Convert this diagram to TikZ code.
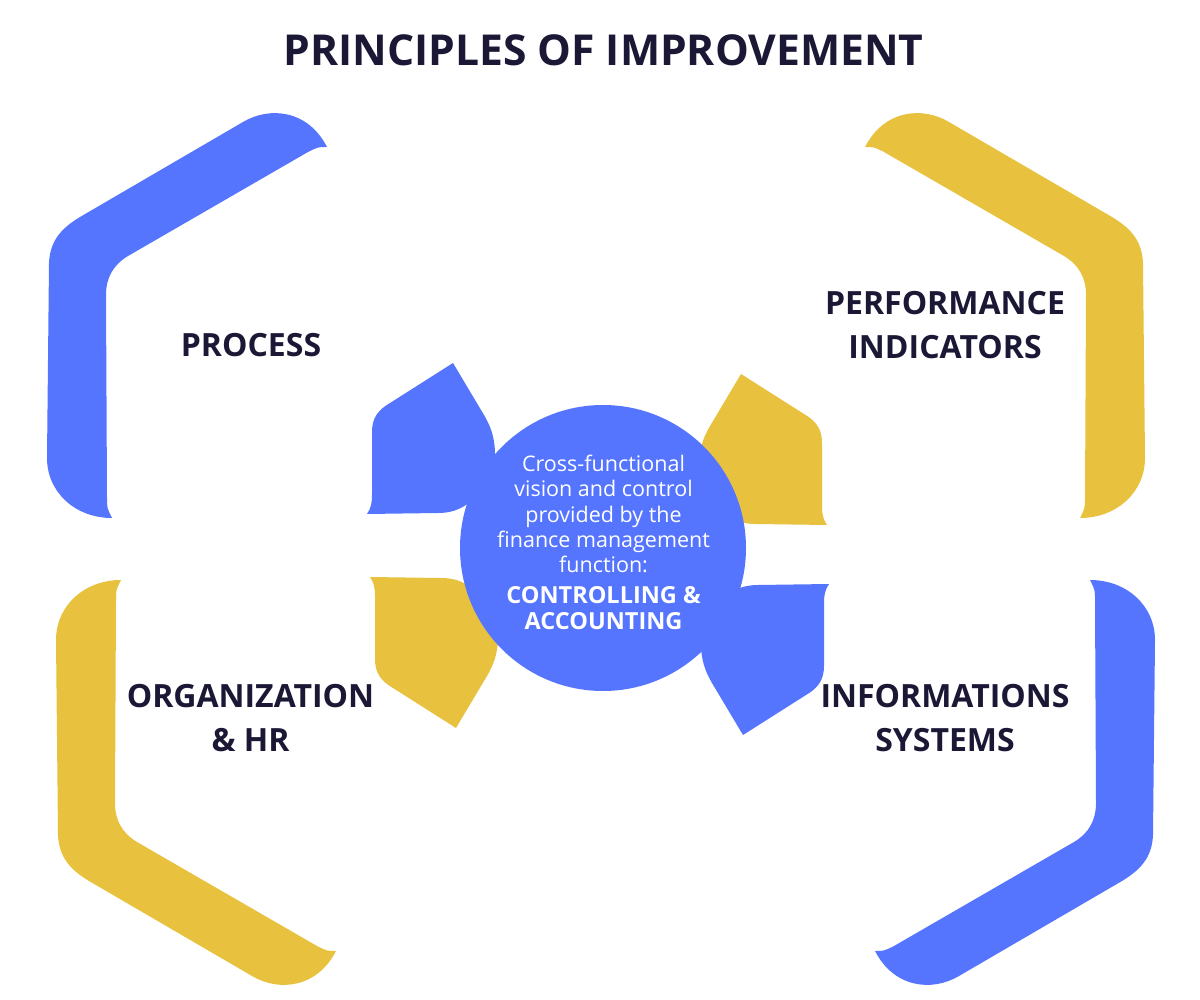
\documentclass[tikz,border=0pt]{standalone}
\usepackage{fontspec}
\setmainfont{Open Sans}
\usepackage{tikz}
\usetikzlibrary{
    positioning
}

\definecolor{pblue}{HTML}{5575FF}
\definecolor{pyellow}{HTML}{E8C23E}
\definecolor{pnavy}{HTML}{1B1836}

\tikzset{
    hub/.style={
        circle,
        fill=pblue,
        minimum size=286pt,
        inner sep=0pt
    },
    heading/.style={
        text=pnavy,
        align=center,
        inner sep=0pt,
        font=\fontsize{32}{44}\selectfont\bfseries
    },
    maintitle/.style={
        text=pnavy,
        inner sep=0pt,
        font=\fontsize{42.6}{50}\selectfont\bfseries
    },
    hubtext/.style={
        text=white,
        align=center,
        inner sep=0pt,
        font=\fontsize{21.5}{25.2}\selectfont
    },
    hubbold/.style={
        text=white,
        align=center,
        inner sep=0pt,
        font=\fontsize{23.5}{26}\selectfont\bfseries
    }
}

% Banda exterior (arriba a la izquierda)
\newcommand{\bandpath}{
    (112,518) .. controls (75,518) and (47,492) .. (47,458)
    -- (49,263) .. controls (50,240) and (62,228) .. (80,217)
    -- (243,122) .. controls (270,106) and (308,110) .. (327,147)
    .. controls (318,147) .. (308,152)
    -- (128,256) .. controls (113,265) and (106,278) .. (106,295)
    -- (107,498) .. controls (107,508) .. (112,518)
    -- cycle
}

% Petalo interior (arriba a la izquierda)
\newcommand{\petalpath}{
    (367,514) .. controls (371,508) and (372,503) .. (372,495)
    -- (372,432) .. controls (372,418) and (378,410) .. (390,403)
    -- (453,363) -- (484,415) .. controls (491,427) and (495,438) .. (495,455)
    -- (560,520) -- (470,502) .. controls (460,510) and (450,513) .. (438,513)
    -- cycle
}

\begin{document}
\begin{tikzpicture}[
    x=1pt,
    y=-1pt
]

    % Fondo
    \path[use as bounding box, fill=white] (0,0) rectangle (1200,1000);

    % Bandas
    \fill[pblue]                                   \bandpath;
    \fill[pyellow, shift={(1192,0)}, xscale=-1]    \bandpath;
    \fill[pyellow, shift={(9,1098)}, yscale=-1]    \bandpath;
    \fill[pblue, shift={(1202,1098)}, scale=-1]    \bandpath;

    % Petalos
    \fill[pblue]                                   \petalpath;
    \fill[pyellow, shift={(1194,11)}, xscale=-1]   \petalpath;
    \fill[pyellow, shift={(3,1091)}, yscale=-1]    \petalpath;
    \fill[pblue, shift={(1196,1098)}, scale=-1]    \petalpath;

    % Centro
    \node[hub] (hub) at (603,548) {};
    \node[hubtext] (vision) at (603.5,514)
        {Cross-functional\\vision and control\\provided by the\\finance management\\function:};
    \node[hubbold, below=13.5pt of vision] (ctrl)
        {CONTROLLING \&\\ACCOUNTING};

    % Textos
    \node[maintitle] (title) at (603.5,50.5) {PRINCIPLES OF IMPROVEMENT};
    \node[heading] (process) at (251,345.5)  {PROCESS};
    \node[heading] (perf)    at (945,325)    {PERFORMANCE\\INDICATORS};
    \node[heading] (org)     at (250.5,718.5) {ORGANIZATION\\\& HR};
    \node[heading] (info)    at (945,718.5)  {INFORMATIONS\\SYSTEMS};

\end{tikzpicture}
\end{document}
